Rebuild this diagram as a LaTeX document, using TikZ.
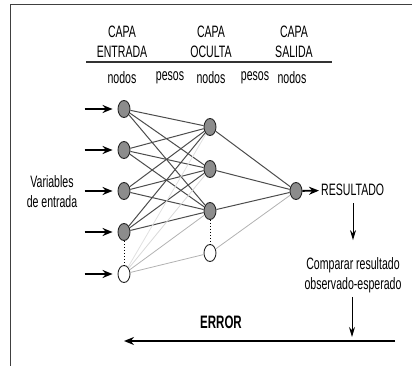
\documentclass[tikz,border=0pt]{standalone}
\usepackage{fontspec}
\setmainfont{Liberation Sans}[FakeStretch=0.64]
\usetikzlibrary{positioning,shapes.geometric,arrows.meta}
\begin{document}
\begin{tikzpicture}[
    x=1pt, y=-1pt,
    node distance={41pt},
    neurona/.style = {draw=black!85, line width=0.9pt, ellipse, fill=black!45, minimum width=12pt, minimum height=17pt, inner sep=0pt},
    vacia/.style = {neurona, fill=white},
    peso/.style = {black!70, line width=1pt},
    tenue/.style = {black!30, line width=0.8pt},
    flecha/.style = {-{Stealth[length=10pt,width=8pt]}, line width=1.8pt},
    flechita/.style = {-{Stealth[length=10pt,width=6pt]}, line width=1pt},
    texto/.style = {font=\fontsize{16.5}{20}\selectfont, inner sep=0pt, align=center}
]
    \useasboundingbox (0,0) rectangle (412,366);
    % --- Marco ---
    \draw[black!75, line width=1pt] (412,5) -- (10,5) -- (10,366);

    % --- Encabezados de las capas ---
    \node[texto] (ent) at (122,42) {CAPA\\ENTRADA};
    \node[texto] (ocu) at (211,42) {CAPA\\OCULTA};
    \node[texto] (sal) at (294,42) {CAPA\\SALIDA};
    \draw[black!80, line width=1.2pt] (86,62) -- (332,62);
    \node[texto] (n1) at (122,78) {nodos};
    \node[texto] (p1) at (170,78) {pesos};
    \node[texto] (n2) at (211,78) {nodos};
    \node[texto] (p2) at (255,78) {pesos};
    \node[texto] (n3) at (292,78) {nodos};

    % --- Capa de entrada ---
    \node[neurona] (e1) at (124,109) {};
    \node[neurona] (e2) [below of=e1] {};
    \node[neurona] (e3) [below of=e2] {};
    \node[neurona] (e4) [below of=e3] {};
    \node[vacia] (e5) [below of=e4, yshift=-1pt] {};
    \node[texto] (var) at (52,192) {Variables\\de entrada};

    % --- Capa oculta ---
    \node[neurona] (o1) at (210,127) {};
    \node[neurona] (o2) [below of=o1, node distance=42pt] {};
    \node[neurona] (o3) [below of=o2, node distance=42pt] {};
    \node[vacia] (o4) [below of=o3, node distance=42pt] {};

    % --- Capa de salida ---
    \node[neurona] (s) at (296,191) {};
    \node[texto, anchor=west] (res) at (321,190) {RESULTADO};
    \node[texto] (comp) at (353,275) {Comparar resultado\\observado-esperado};
    \node[texto, font=\fontsize{18}{20}\selectfont\bfseries] (err) at (221,322) {ERROR};

    % --- Pesos ---
    \foreach \i in {1,...,4}
        \foreach \j in {1,2,3}
            \draw[peso] (e\i) -- (o\j);
    \draw[black!12, line width=0.8pt] (e5) -- (o1);
    \draw[black!15, line width=0.8pt] (e5) -- (o2);
    \draw[tenue] (e5) -- (o3);
    \draw[tenue] (e5) -- (o4);
    \foreach \j in {1,2,3}
        \draw[peso] (o\j) -- (s);
    \draw[tenue] (o4) -- (s);
    \draw[dotted, line width=1pt] (e4) -- (e5);
    \draw[dotted, line width=1pt] (o3) -- (o4);

    % --- Flechas ---
    \foreach \i in {1,...,5}
        \draw[flecha, shorten >=5pt] ([xshift=-33pt]e\i.west) -- (e\i);
    \draw[flecha, shorten >=2pt] (s) -- (res);
    \draw[flechita, shorten <=7pt, shorten >=17pt] (res.south -| comp.north) -- (comp.north);
    \coordinate (fin) at (395,341);
    \coordinate (ini) at (e5 |- fin);
    \draw[flechita, shorten <=4pt, shorten >=4pt] (comp.south -| 352,0) -- (fin -| 352,0);
    \draw[flecha] (fin) -- (ini);
\end{tikzpicture}
\end{document}
